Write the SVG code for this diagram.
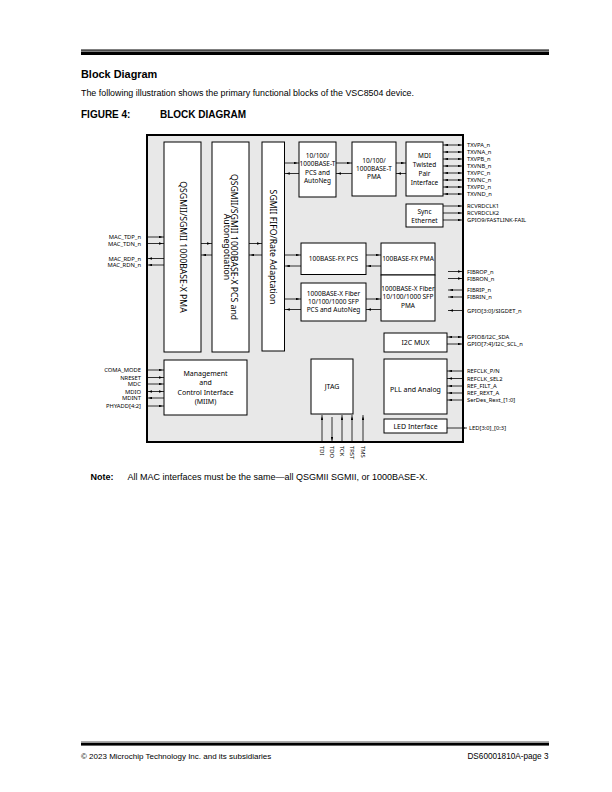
<svg xmlns="http://www.w3.org/2000/svg" width="612" height="792" viewBox="0 0 612 792">
<style>
.pg{font-family:"Liberation Sans",Arial,sans-serif;fill:#000}
.box{fill:#fff;stroke:#000;stroke-width:1}
.outer{fill:#e8e8e8;stroke:#000;stroke-width:2}
.c{stroke:#000;stroke-width:0.8;fill:none}
.a{marker-end:url(#ah)}
.b{marker-start:url(#ah);marker-end:url(#ah)}
.t{font-family:"Noto Sans","DejaVu Sans",sans-serif;font-size:6.5px;text-anchor:middle;fill:#000}
.m{font-size:7px}
.v{font-family:"Noto Sans","DejaVu Sans",sans-serif;font-size:8.7px;text-anchor:middle;fill:#000}
.s{font-family:"Noto Sans","DejaVu Sans",sans-serif;font-size:5.8px;fill:#000}
.r{text-anchor:end}
</style>
<defs>
<marker id="ah" viewBox="0 0 6 4" refX="8" refY="2" markerWidth="4" markerHeight="2.7" markerUnits="userSpaceOnUse" orient="auto-start-reverse"><path d="M0,0 L6,2 L0,4 z" fill="#000"/></marker>
</defs>
<rect width="612" height="792" fill="#fff"/>
<!-- page header -->
<rect x="81" y="49.5" width="468" height="1.2" fill="#000"/>
<rect x="81" y="51.5" width="468" height="3.5" fill="#000"/>
<text class="pg" x="81" y="78" font-size="10.9" font-weight="bold">Block Diagram</text>
<text class="pg" x="81" y="96" font-size="8.9">The following illustration shows the primary functional blocks of the VSC8504 device.</text>
<text class="pg" x="81" y="118" font-size="10" font-weight="bold">FIGURE 4:</text>
<text class="pg" x="160" y="118" font-size="10" font-weight="bold">BLOCK DIAGRAM</text>

<g id="device">
<rect class="outer" x="147" y="135" width="316" height="307"/>
</g>
<g id="qsgmii-pma"><rect class="box" x="164" y="142" width="37" height="210"/>
<text class="v" transform="translate(182.5,247) rotate(90)" y="3">QSGMII/SGMII 1000BASE-X PMA</text></g>
<g id="qsgmii-pcs"><rect class="box" x="212" y="142" width="37" height="210"/>
<text class="v" transform="translate(230.5,247) rotate(90)"><tspan x="0" y="-0.8">QSGMII/SGMII 1000BASE-X PCS and</tspan><tspan x="0" y="6.6">Autonegotiation</tspan></text></g>
<g id="sgmii-fifo"><rect class="box" x="262" y="142" width="22.5" height="209"/>
<text class="v" transform="translate(273.3,247) rotate(90)" y="3">SGMII FIFO/Rate Adaptation</text></g>
<g id="pcs-t"><rect class="box" x="299" y="142" width="37" height="55"/>
<text class="t"><tspan x="317.5" y="157.5">10/100/</tspan><tspan x="317.5" y="166">1000BASE-T</tspan><tspan x="317.5" y="174.5">PCS and</tspan><tspan x="317.5" y="183">AutoNeg</tspan></text></g>
<g id="pma-t"><rect class="box" x="352" y="142" width="44" height="54"/>
<text class="t"><tspan x="374" y="163">10/100/</tspan><tspan x="374" y="171">1000BASE-T</tspan><tspan x="374" y="179">PMA</tspan></text></g>
<g id="mdi"><rect class="box" x="406" y="142" width="37" height="54"/>
<text class="t"><tspan x="424.5" y="157.5">MDI</tspan><tspan x="424.5" y="166.5">Twisted</tspan><tspan x="424.5" y="175.5">Pair</tspan><tspan x="424.5" y="184.5">Interface</tspan></text></g>
<g id="sync-eth"><rect class="box" x="406" y="204" width="37" height="23"/>
<text class="t"><tspan x="424.5" y="214">Sync</tspan><tspan x="424.5" y="222.5">Ethernet</tspan></text></g>
<g id="fx-pcs"><rect class="box" x="301" y="243" width="65" height="31.5"/>
<text class="t" x="333.5" y="261">100BASE-FX PCS</text></g>
<g id="x-pcs"><rect class="box" x="301" y="283" width="65" height="38"/>
<text class="t"><tspan x="333.5" y="295.5">1000BASE-X Fiber</tspan><tspan x="333.5" y="303.5">10/100/1000 SFP</tspan><tspan x="333.5" y="311.5">PCS and AutoNeg</tspan></text></g>
<g id="fx-pma"><rect class="box" x="381" y="243" width="54" height="32"/>
<text class="t" x="408" y="261">100BASE-FX PMA</text></g>
<g id="x-pma"><rect class="box" x="381" y="275" width="54" height="46"/>
<text class="t"><tspan x="408" y="290.5">1000BASE-X Fiber</tspan><tspan x="408" y="299">10/100/1000 SFP</tspan><tspan x="408" y="308">PMA</tspan></text></g>
<g id="i2c-mux"><rect class="box" x="384" y="333" width="63" height="19"/>
<text class="t m" x="415.5" y="345">I2C MUX</text></g>
<g id="pll"><rect class="box" x="384" y="359" width="63" height="55"/>
<text class="t m" x="415.5" y="391.5">PLL and Analog</text></g>
<g id="led"><rect class="box" x="384" y="419" width="63" height="14"/>
<text class="t m" x="415.5" y="428.5">LED Interface</text></g>
<g id="jtag"><rect class="box" x="311" y="359" width="42" height="55"/>
<text class="t m" x="332" y="388.5">JTAG</text></g>
<g id="miim"><rect class="box" x="164" y="360" width="83" height="55"/>
<text class="t m"><tspan x="205.5" y="375.5">Management</tspan><tspan x="205.5" y="385">and</tspan><tspan x="205.5" y="394.5">Control Interface</tspan><tspan x="205.5" y="403.5">(MIIM)</tspan></text></g>

<g id="connectors">
<!-- MAC side -->
<line class="c a" x1="147" y1="237" x2="164" y2="237"/>
<line class="c a" x1="147" y1="243.5" x2="164" y2="243.5"/>
<line class="c a" x1="164" y1="258.5" x2="147" y2="258.5"/>
<line class="c a" x1="164" y1="265" x2="147" y2="265"/>
<!-- between vertical blocks -->
<line class="c a" x1="201" y1="243.5" x2="212" y2="243.5"/>
<line class="c a" x1="212" y1="255" x2="201" y2="255"/>
<line class="c a" x1="249" y1="243.5" x2="262" y2="243.5"/>
<line class="c a" x1="262" y1="255" x2="249" y2="255"/>
<!-- FIFO to right blocks -->
<line class="c a" x1="284.5" y1="163" x2="299" y2="163"/>
<line class="c a" x1="299" y1="173.5" x2="284.5" y2="173.5"/>
<line class="c a" x1="284.5" y1="255" x2="301" y2="255"/>
<line class="c a" x1="301" y1="266" x2="284.5" y2="266"/>
<line class="c a" x1="284.5" y1="299" x2="301" y2="299"/>
<line class="c a" x1="301" y1="309.5" x2="284.5" y2="309.5"/>
<!-- T path -->
<line class="c a" x1="336" y1="163" x2="352" y2="163"/>
<line class="c a" x1="352" y1="173.5" x2="336" y2="173.5"/>
<line class="c a" x1="396" y1="163" x2="406" y2="163"/>
<line class="c a" x1="406" y1="173.5" x2="396" y2="173.5"/>
<!-- fiber path -->
<line class="c a" x1="366" y1="255" x2="381" y2="255"/>
<line class="c a" x1="381" y1="266" x2="366" y2="266"/>
<line class="c a" x1="366" y1="299" x2="381" y2="299"/>
<line class="c a" x1="381" y1="309.5" x2="366" y2="309.5"/>
<!-- MDI out -->
<line class="c b" x1="443" y1="145" x2="463" y2="145"/>
<line class="c b" x1="443" y1="152" x2="463" y2="152"/>
<line class="c b" x1="443" y1="159" x2="463" y2="159"/>
<line class="c b" x1="443" y1="166" x2="463" y2="166"/>
<line class="c b" x1="443" y1="173" x2="463" y2="173"/>
<line class="c b" x1="443" y1="180" x2="463" y2="180"/>
<line class="c b" x1="443" y1="187" x2="463" y2="187"/>
<line class="c b" x1="443" y1="194" x2="463" y2="194"/>
<!-- sync eth out -->
<line class="c a" x1="443" y1="206" x2="463" y2="206"/>
<line class="c a" x1="443" y1="213" x2="463" y2="213"/>
<line class="c a" x1="443" y1="220" x2="463" y2="220"/>
<!-- fiber out -->
<line class="c a" x1="448" y1="271.5" x2="463" y2="271.5"/>
<line class="c a" x1="448" y1="278.5" x2="463" y2="278.5"/>
<line class="c a" x1="463" y1="290" x2="448" y2="290"/>
<line class="c a" x1="463" y1="297" x2="448" y2="297"/>
<line class="c a" x1="463" y1="310.5" x2="448" y2="310.5"/>
<!-- I2C -->
<line class="c b" x1="447" y1="337" x2="463" y2="337"/>
<line class="c a" x1="447" y1="344" x2="463" y2="344"/>
<!-- PLL -->
<line class="c a" x1="463" y1="371" x2="447" y2="371"/>
<line class="c a" x1="463" y1="378.5" x2="447" y2="378.5"/>
<line class="c a" x1="463" y1="386" x2="447" y2="386"/>
<line class="c a" x1="463" y1="393" x2="447" y2="393"/>
<line class="c a" x1="463" y1="400" x2="447" y2="400"/>
<!-- LED -->
<line class="c a" x1="447" y1="428" x2="467" y2="428"/>
<!-- MIIM -->
<line class="c a" x1="147" y1="370" x2="164" y2="370"/>
<line class="c a" x1="147" y1="377.5" x2="164" y2="377.5"/>
<line class="c a" x1="147" y1="384" x2="164" y2="384"/>
<line class="c b" x1="147" y1="391.5" x2="164" y2="391.5"/>
<line class="c a" x1="164" y1="398" x2="147" y2="398"/>
<line class="c a" x1="147" y1="406" x2="164" y2="406"/>
<!-- JTAG -->
<line class="c a" x1="322" y1="442" x2="322" y2="415"/>
<line class="c a" x1="332" y1="417" x2="332" y2="442"/>
<line class="c a" x1="342" y1="442" x2="342" y2="415"/>
<line class="c a" x1="352" y1="442" x2="352" y2="415"/>
<line class="c a" x1="363" y1="442" x2="363" y2="415"/>
</g>

<g id="signal-labels">
<text class="s r" x="141" y="239">MAC_TDP_n</text>
<text class="s r" x="141" y="245.5">MAC_TDN_n</text>
<text class="s r" x="141" y="260.5">MAC_RDP_n</text>
<text class="s r" x="141" y="267">MAC_RDN_n</text>
<text class="s r" x="141" y="372">COMA_MODE</text>
<text class="s r" x="141" y="379.5">NRESET</text>
<text class="s r" x="141" y="386">MDC</text>
<text class="s r" x="141" y="393.5">MDIO</text>
<text class="s r" x="141" y="400">MDINT</text>
<text class="s r" x="141" y="408">PHYADD[4:2]</text>
<text class="s" x="467" y="147">TXVPA_n</text>
<text class="s" x="467" y="154">TXVNA_n</text>
<text class="s" x="467" y="161">TXVPB_n</text>
<text class="s" x="467" y="168">TXVNB_n</text>
<text class="s" x="467" y="175">TXVPC_n</text>
<text class="s" x="467" y="182">TXVNC_n</text>
<text class="s" x="467" y="189">TXVPD_n</text>
<text class="s" x="467" y="196">TXVND_n</text>
<text class="s" x="467" y="208">RCVRDCLK1</text>
<text class="s" x="467" y="215">RCVRDCLK2</text>
<text class="s" x="467" y="222">GPIO9/FASTLINK-FAIL</text>
<text class="s" x="467" y="273.5">FIBROP_n</text>
<text class="s" x="467" y="280.5">FIBRON_n</text>
<text class="s" x="467" y="292">FIBRIP_n</text>
<text class="s" x="467" y="299">FIBRIN_n</text>
<text class="s" x="467" y="312.5">GPIO[3:0]/SIGDET_n</text>
<text class="s" x="467" y="339">GPIO8/I2C_SDA</text>
<text class="s" x="467" y="346">GPIO[7:4]/I2C_SCL_n</text>
<text class="s" x="467" y="373">REFCLK_P/N</text>
<text class="s" x="467" y="380.5">REFCLK_SEL2</text>
<text class="s" x="467" y="388">REF_FILT_A</text>
<text class="s" x="467" y="395">REF_REXT_A</text>
<text class="s" x="467" y="402">SerDes_Rext_[1:0]</text>
<text class="s" x="469" y="430">LED[3:0]_[0:3]</text>
<text class="s" transform="translate(320,446) rotate(90)">TDI</text>
<text class="s" transform="translate(330,446) rotate(90)">TDO</text>
<text class="s" transform="translate(340,446) rotate(90)">TCK</text>
<text class="s" transform="translate(350,446) rotate(90)">TRST</text>
<text class="s" transform="translate(361,446) rotate(90)">TMS</text>
</g>

<text class="pg" x="90.5" y="480" font-size="9" font-weight="bold">Note:</text>
<text class="pg" x="127.5" y="480" font-size="9">All MAC interfaces must be the same—all QSGMII SGMII, or 1000BASE-X.</text>

<rect x="81" y="741" width="468" height="0.8" fill="#999"/>
<rect x="81" y="742.6" width="468" height="3" fill="#000"/>
<text class="pg" x="81" y="759" font-size="8">© 2023 Microchip Technology Inc. and its subsidiaries</text>
<text class="pg" x="548.5" y="759" font-size="8.2" text-anchor="end">DS60001810A-page 3</text>
</svg>
